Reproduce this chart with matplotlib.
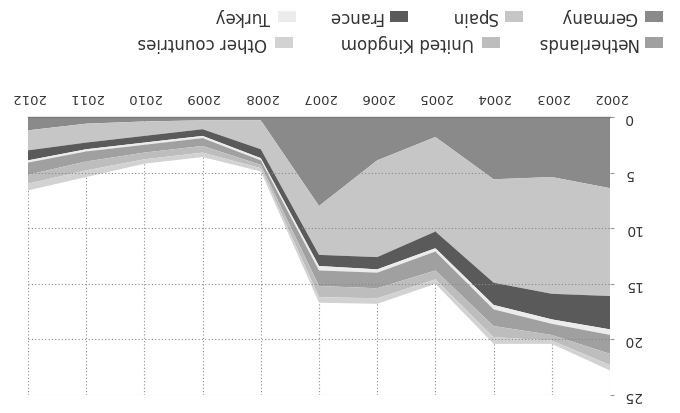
import matplotlib
matplotlib.use("Agg")
import matplotlib.pyplot as plt
from matplotlib.patches import Rectangle

plt.rcParams['font.family'] = ['DejaVu Sans']

years = [2002, 2003, 2004, 2005, 2006, 2007, 2008, 2009, 2010, 2011, 2012]
series_names = ["Germany", "Spain", "France", "Turkey",
                "Netherlands", "United Kingdom", "Other countries"]
germany = [6.4, 5.4, 5.6, 1.8, 3.9, 8.0, 0.3, 0.3, 0.4, 0.6, 1.2]
spain = [9.7, 10.5, 9.3, 8.5, 8.7, 4.4, 2.6, 0.8, 1.3, 1.7, 1.8]
france = [3.0, 2.3, 2.0, 1.5, 1.1, 1.0, 0.8, 0.6, 0.6, 0.6, 0.9]
turkey = [0.5, 0.4, 0.4, 0.3, 0.3, 0.4, 0.2, 0.2, 0.2, 0.2, 0.2]
netherlands = [1.7, 1.0, 1.5, 1.7, 1.4, 1.4, 0.4, 0.7, 0.7, 0.9, 1.1]
united_kingdom = [1.0, 0.5, 1.0, 0.8, 0.9, 1.0, 0.3, 0.6, 0.6, 0.8, 0.8]
other = [0.5, 0.3, 0.6, 0.4, 0.5, 0.5, 0.3, 0.4, 0.4, 0.6, 0.6]
y_ticks = [0, 5, 10, 15, 20, 25]

colors = ['#8a8a8a', '#c6c6c6', '#5a5a5a', '#ececec', '#a0a0a0', '#bdbdbd', '#d2d2d2']

fig = plt.figure(figsize=(6.8, 4.14), dpi=100)
W, H = 680.0, 414.0
ax = fig.add_axes([28 / W, 18 / H, (610 - 28) / W, (396 - 118) / H])

ax.stackplot(years, germany, spain, france, turkey, netherlands,
             united_kingdom, other, colors=colors, zorder=1, linewidth=0)

ax.set_xlim(2012, 2002)
ax.set_ylim(25, 0)
ax.set_xticks(years)
ax.set_yticks(y_ticks)

ax.set_axisbelow(True)
ax.grid(axis='x', linestyle=(0, (1, 2)), color='#8a8a8a', linewidth=0.8)
for yv in y_ticks[1:]:
    ax.axhline(yv, linestyle=(0, (1, 2)), color='#8a8a8a', linewidth=0.8, zorder=3)

for s in ['left', 'right', 'bottom']:
    ax.spines[s].set_visible(False)
ax.spines['top'].set_color('#7a7a7a')
ax.spines['top'].set_linewidth(1.0)

ax.xaxis.tick_top()
ax.yaxis.tick_right()
ax.tick_params(axis='x', top=True, labeltop=True, bottom=False, labelbottom=False,
               labelrotation=180, length=0, pad=10, labelsize=9.5, labelcolor='#333333')
ax.tick_params(axis='y', right=True, labelright=True, left=False, labelleft=False,
               labelrotation=180, length=3, pad=7, labelsize=10, color='#999999',
               labelcolor='#333333')
for lab in ax.get_yticklabels():
    lab.set_va('center')

# legend (drawn rotated 180 like the reference)
legend_items = [
    (0, 645, 17), (1, 505, 17), (2, 390, 17), (3, 278, 17),
    (4, 645, 43), (5, 482, 43), (6, 275, 43),
]
pw, ph = 18, 11
for idx, px, py in legend_items:
    fig.patches.append(Rectangle((px / W, (H - py - ph / 2) / H), pw / W, ph / H,
                                 transform=fig.transFigure, facecolor=colors[idx],
                                 edgecolor='none'))
    fig.text((px - 8) / W, (H - py) / H, series_names[idx], rotation=180,
             ha='right', va='center', fontsize=12, color='#333333')

fig.savefig("out.png", dpi=100)
